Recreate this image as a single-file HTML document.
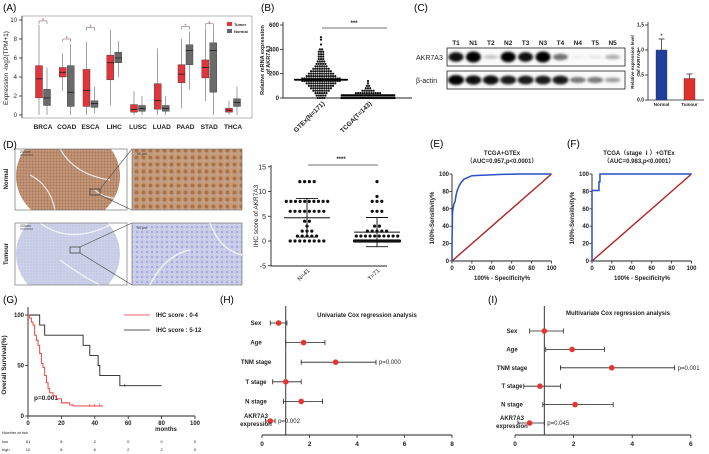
<!DOCTYPE html>
<html><head><meta charset="utf-8"><style>
html,body{margin:0;padding:0;background:#fff;}
svg{display:block;font-family:"Liberation Sans","Noto Sans CJK SC",sans-serif;}
.pl{font-size:10px;font-weight:normal;}
.t{font-size:6px;font-weight:bold;fill:#222;}
.ts{font-size:5px;font-weight:bold;fill:#222;}
</style></head><body>
<svg id="fig" width="709" height="454" viewBox="0 0 709 454">
<defs>
<filter id="blur" x="-50%" y="-50%" width="200%" height="200%"><feGaussianBlur stdDeviation="1.3"/></filter>
<pattern id="pn" width="3" height="3" patternUnits="userSpaceOnUse"><rect width="3" height="3" fill="#b98a6c"/><circle cx="1" cy="1" r="0.6" fill="#d2b29c"/><circle cx="2.5" cy="2.3" r="0.5" fill="#9f6f50"/></pattern>
<pattern id="pnz" width="7" height="7" patternUnits="userSpaceOnUse"><rect width="7" height="7" fill="#c79a78"/><circle cx="3.5" cy="3.5" r="2" fill="#a8734a"/><circle cx="0.5" cy="6.5" r="1" fill="#aab3d6"/></pattern>
<pattern id="pt" width="3" height="3" patternUnits="userSpaceOnUse"><rect width="3" height="3" fill="#cdd1e8"/><circle cx="1" cy="1" r="0.5" fill="#aab1d9"/></pattern>
<pattern id="ptz" width="5" height="5" patternUnits="userSpaceOnUse"><rect width="5" height="5" fill="#c8cce8"/><circle cx="2" cy="2" r="0.9" fill="#8e97cf"/><circle cx="4.3" cy="4.3" r="0.6" fill="#e6e8f4"/></pattern>
<clipPath id="clipN"><rect x="15" y="149" width="112" height="61"/></clipPath>
<clipPath id="clipT"><rect x="15" y="223" width="112" height="62"/></clipPath>
</defs>

<text class="pl" x="3" y="11">(A)</text>
<text class="pl" x="261" y="11">(B)</text>
<text class="pl" x="414" y="11">(C)</text>
<text class="pl" x="3" y="148">(D)</text>
<text class="pl" x="430" y="147">(E)</text>
<text class="pl" x="567" y="147">(F)</text>
<text class="pl" x="3" y="303">(G)</text>
<text class="pl" x="220" y="303">(H)</text>
<text class="pl" x="488" y="303">(I)</text>

<rect x="22" y="16" width="230" height="102" fill="none" stroke="#888" stroke-width="0.6"/>
<text class="t" transform="translate(8,68) rotate(-90)" text-anchor="middle" style="font-weight:normal;font-size:6.5px">Expression -log2(TPM+1)</text>
<rect x="227" y="22" width="5" height="4" fill="#e0353b"/>
<text class="ts" x="234" y="26" style="font-size:4px">Tumor</text>
<rect x="227" y="29" width="5" height="4" fill="#666"/>
<text class="ts" x="234" y="33" style="font-size:4px">Normal</text>

<text class="ts" transform="translate(264,60) rotate(-90)" text-anchor="middle" style="font-size:5.5px">Relative mRNA expression</text>
<text class="ts" transform="translate(270,60) rotate(-90)" text-anchor="middle" style="font-size:5.5px">of AKR7A3</text>
<text class="t" x="354" y="25" text-anchor="middle">***</text>

<text class="t" x="416" y="60" style="font-size:7px;font-weight:normal">AKR7A3</text>
<text class="t" x="416" y="83" style="font-size:7px;font-weight:normal">β-actin</text>
<rect x="447" y="48" width="178" height="18" fill="#fafafa" stroke="#222" stroke-width="0.8"/>
<rect x="447" y="71" width="178" height="18" fill="#fafafa" stroke="#222" stroke-width="0.8"/>
<text class="ts" transform="translate(634,62) rotate(-90)" text-anchor="middle" style="font-size:4.5px">Relative expression level</text>
<text class="ts" transform="translate(640,62) rotate(-90)" text-anchor="middle" style="font-size:4.5px">of AKR7A3</text>

<text class="t" transform="translate(8,179) rotate(-90)" text-anchor="middle">Normal</text>
<text class="t" transform="translate(8,254) rotate(-90)" text-anchor="middle">Tumour</text>
<g>
<rect x="15" y="149" width="112" height="61" fill="#fff"/>
<g clip-path="url(#clipN)">
<ellipse cx="68" cy="176" rx="52" ry="48" fill="url(#pn)"/>
<path d="M60,149 Q75,175 110,180 M30,175 Q50,185 55,210 M95,190 Q105,200 127,198" stroke="#fff" stroke-width="1.2" fill="none" opacity="0.8"/>
</g>
<rect x="15" y="149" width="112" height="61" fill="none" stroke="#777" stroke-width="0.7"/>
<line x1="20" y1="155" x2="33" y2="155" stroke="#333" stroke-width="0.6"/><text x="20" y="153" font-size="3.5" fill="#333">200um</text>
<rect x="90" y="189" width="10" height="6" fill="none" stroke="#333" stroke-width="0.7"/>
<line x1="100" y1="189" x2="132" y2="149" stroke="#444" stroke-width="0.6"/><line x1="100" y1="195" x2="132" y2="210" stroke="#444" stroke-width="0.6"/>
</g>
<g>
<rect x="132" y="149" width="110" height="61" fill="url(#pnz)" stroke="#777" stroke-width="0.7"/>
<text x="137" y="155" font-size="3.5" fill="#333">50 μm</text>
</g>
<g>
<rect x="15" y="223" width="112" height="62" fill="#fff"/>
<g clip-path="url(#clipT)">
<ellipse cx="68" cy="254" rx="52" ry="48" fill="url(#pt)"/>
<path d="M40,223 Q70,245 110,225 M60,260 Q80,275 100,285" stroke="#fff" stroke-width="1.2" fill="none" opacity="0.8"/>
</g>
<rect x="15" y="223" width="112" height="62" fill="none" stroke="#777" stroke-width="0.7"/>
<line x1="20" y1="229" x2="33" y2="229" stroke="#333" stroke-width="0.6"/><text x="20" y="227" font-size="3.5" fill="#333">200um</text>
<rect x="70" y="247" width="10" height="6" fill="none" stroke="#333" stroke-width="0.7"/>
<line x1="80" y1="247" x2="132" y2="223" stroke="#444" stroke-width="0.6"/><line x1="80" y1="253" x2="132" y2="285" stroke="#444" stroke-width="0.6"/>
</g>
<g>
<rect x="132" y="223" width="110" height="62" fill="url(#ptz)" stroke="#777" stroke-width="0.7"/>
<path d="M150,285 Q165,255 190,250 M210,223 Q220,250 242,255" stroke="#eef0f8" stroke-width="1.5" fill="none"/>
<text x="137" y="229" font-size="3.5" fill="#333">50 μm</text>
</g>
<text class="t" transform="translate(258,216) rotate(-90)" text-anchor="middle" style="font-weight:normal;font-size:6.5px">IHC score of  AKR7A3</text>
<text class="t" x="341" y="161" text-anchor="middle">****</text>

<text class="t" x="502" y="155" text-anchor="middle">TCGA+GTEx</text>
<text class="t" x="502" y="163" text-anchor="middle">（AUC=0.957,p&lt;0.0001）</text>
<text class="t" x="639" y="155" text-anchor="middle">TCGA（stage Ⅰ）+GTEx</text>
<text class="t" x="639" y="163" text-anchor="middle">（AUC=0.983,p&lt;0.0001）</text>
<text class="t" transform="translate(434,218) rotate(-90)" text-anchor="middle">100%-Sensitivity%</text>
<text class="t" transform="translate(574,218) rotate(-90)" text-anchor="middle">100%-Sensitivity%</text>
<text class="t" x="502" y="280" text-anchor="middle">100%  - Specificity%</text>
<text class="t" x="642" y="280" text-anchor="middle">100%  - Specificity%</text>

<text class="t" transform="translate(6,365) rotate(-90)" text-anchor="middle" style="font-size:6.5px">Overall Survival(%)</text>
<text class="t" x="166" y="431" text-anchor="middle">months</text>
<text class="ts" x="2" y="434" style="font-weight:normal;font-size:4px">Number at risk</text>
<text class="ts" x="2" y="443" style="font-weight:normal;font-size:4px">low</text>
<text class="ts" x="2" y="451" style="font-weight:normal;font-size:4px">high</text>
<line x1="124" y1="315" x2="150" y2="315" stroke="#e8332f" stroke-width="0.8"/>
<text class="t" x="156" y="317">IHC score : 0-4</text>
<line x1="124" y1="330" x2="150" y2="330" stroke="#222" stroke-width="0.8"/>
<text class="t" x="156" y="332">IHC score : 5-12</text>
<text class="t" x="34" y="400" style="font-size:6.5px">p=0.001</text>

<text class="t" x="367" y="317" text-anchor="middle">Univariate Cox regression analysis</text>
<text class="t" x="618" y="315" text-anchor="middle">Multivariate Cox regression analysis</text>

<g id="marks"></g>
</svg>
<script>
// ===== Panel A data =====
const aCats=['BRCA','COAD','ESCA','LIHC','LUSC','LUAD','PAAD','STAD','THCA'];
const aTumorQ1=[1.8,4.0,0.9,3.7,0.3,0.6,3.4,3.9,0.3];
const aTumorMed=[3.8,4.5,2.6,5.5,0.6,1.5,4.3,5.0,0.5];
const aTumorQ3=[5.2,5.0,4.8,6.3,1.1,3.3,5.3,5.8,0.7];
const aTumorLo=[0,2.5,0,1.0,0,0,0.7,1.5,0];
const aTumorHi=[9.5,6.5,7.7,9.0,2.5,7.0,8.0,9.2,1.5];
const aNormalQ1=[1.0,0.9,0.8,5.5,0.4,0.4,5.3,2.4,0.9];
const aNormalMed=[1.8,2.4,1.2,6.0,0.7,0.7,6.8,6.8,1.3];
const aNormalQ3=[2.7,5.2,1.5,6.6,1.0,1.0,7.4,7.6,1.7];
const aNormalLo=[0,0,0.2,4.0,0,0,2.7,0,0];
const aNormalHi=[5.0,7.5,3.0,7.8,2.0,2.0,8.8,9.3,3.0];
const aSigCats=['BRCA','COAD','ESCA','PAAD','STAD'];
const aSigLevel=[9.9,8.0,9.2,9.3,9.6];
const aTicks=[0,2,4,6,8,10];
// ===== Panel B data =====
const bGtexVals=[500,480,440,400,380,360,340,320,300,280,260,240,220,200,180,160,150,140,120,100,80,60,40,20,0];
const bGtexCounts=[1,1,1,2,3,3,3,3,4,5,6,8,10,12,14,18,26,18,14,12,10,8,6,5,4];
const bTcgaVals=[140,120,100,80,60,40,20,0];
const bTcgaCounts=[1,1,2,3,6,12,40,78];
const bMeans=[150,25];
const bTicks=[0,200,400,600];
// ===== Panel C data =====
const cLanes=['T1','N1','T2','N2','T3','N3','T4','N4','T5','N5'];
const cAkrBand=[0.85,1.0,0.2,0.95,0.85,1.0,0.5,0.06,0.08,0.28];
const cActinBand=[1.0,0.9,0.9,0.85,0.85,0.85,0.85,0.5,0.5,0.35];
const cBarCats=['Normal','Tumour'];
const cBarVals=[1.0,0.43];
const cBarErr=[0.22,0.09];
const cTicks=[0.0,0.5,1.0,1.5];
// ===== Panel D (IHC) data =====
const dNScores=[12,8,6,4,3,2,1,0];
const dNCounts=[4,10,8,2,1,3,5,8];
const dTScores=[12,9,8,6,3,2,1,0];
const dTCounts=[1,1,3,3,2,5,10,46];
const dMean=[4.7,1.8];
const dSD=[3.9,2.95];
const dTicks=[-5,0,5,10,15];
// ===== Panel E/F data =====
const eFpr=[0,0,0.5,1,2,3,4,5,7,9,12,16,20,30,50,70,100];
const eTpr=[0,20,55,60,66,68,75,80,86,90,94,96,98,98.5,99.5,100,100];
const fFpr=[0,0,7,7,8,8,100];
const fTpr=[0,81,81,91,91,100,100];
const efTicks=[0,20,40,60,80,100];
// ===== Panel G data =====
const gHighT=[0,7,10,33,37,42,43,55,80];
const gHighS=[100,90,80,70,60,50,40,30,30];
const gLowT=[0,1,2,3,4,5,6,7,8,9,10,11,12,13,15,17,20,25,27,45];
const gLowS=[100,97,93,90,80,75,70,62,52,48,40,33,27,23,20,17,13,11,10,10];
const gLowCensor=[37,40,43];
const gHighCensor=[58];
const gTicks=[0,20,40,60,80,100];
const gYTicks=[0,50,100];
const gRiskLow=[61,8,2,0,0,0];
const gRiskHigh=[10,8,6,2,2,0];
// ===== Panel H/I data =====
const coxVars=['Sex','Age','TNM stage','T stage','N stage','AKR7A3'];
const hHR=[0.7,1.75,3.1,1.0,1.65,0.35];
const hLo=[0.35,1.0,1.65,0.45,0.9,0.15];
const hHi=[1.05,2.65,4.8,1.65,2.55,0.55];
const hP=['','','p=0.000','','','p=0.002'];
const hTicks=[0,2,4,6,8];
const iHR=[1.0,1.95,3.3,0.85,2.05,0.5];
const iLo=[0.5,1.05,1.55,0.3,0.95,0.1];
const iHi=[1.65,3.05,5.45,1.55,3.35,1.0];
const iP=['','','p=0.001','','','p=0.045'];
const iTicks=[0,2,4,6];

const NS='http://www.w3.org/2000/svg';
const root=document.getElementById('marks');
function mk(tag,attrs,txt){const e=document.createElementNS(NS,tag);for(const k in attrs)e.setAttribute(k,attrs[k]);if(txt!==undefined)e.textContent=txt;root.appendChild(e);return e;}
function line(x1,y1,x2,y2,c,w){return mk('line',{x1:x1,y1:y1,x2:x2,y2:y2,stroke:c||'#222','stroke-width':w||0.8});}
let e;

// ===== Panel A =====
const xA=i=>43+i*23.75, yA=v=>115-v*9.5;
e=line(22,16,22,118,'#222',0.7);


aTicks.forEach(t=>{
  e=line(19,yA(t),22,yA(t));
  
  
  e=mk('text',{x:17,y:yA(t)+2,'text-anchor':'end',class:'t',style:'font-weight:normal'},t);
  
  
});
function boxA(cx,q1,md,q3,lo,hi,fill,nm){
  e=line(cx,yA(lo),cx,yA(hi),'#444',0.5);
  
  
  e=mk('rect',{x:cx-3.5,y:yA(q3),width:7,height:yA(q1)-yA(q3),fill:fill,stroke:'#333','stroke-width':0.4});
  
  
  e=line(cx-3.5,yA(md),cx+3.5,yA(md),'#111',0.7);
  
  
}
aCats.forEach((c,i)=>{
  boxA(xA(i)-4,aTumorQ1[i],aTumorMed[i],aTumorQ3[i],aTumorLo[i],aTumorHi[i],'#e0353b','box-tumor-'+c.toLowerCase());
  boxA(xA(i)+4,aNormalQ1[i],aNormalMed[i],aNormalQ3[i],aNormalLo[i],aNormalHi[i],'#6a6a6a','box-normal-'+c.toLowerCase());
  e=mk('text',{x:xA(i),y:129,'text-anchor':'middle',class:'t',style:'font-size:6.5px'},c);
  
  
});
aSigCats.forEach((c,k)=>{
  const i=aCats.indexOf(c), y=yA(aSigLevel[k]);
  e=mk('path',{d:`M${xA(i)-4},${y+3}V${y}H${xA(i)+4}V${y+3}`,fill:'none',stroke:'#555','stroke-width':0.5});
  
  
  e=mk('text',{x:xA(i),y:y+1.5,'text-anchor':'middle',fill:'#e0353b','font-size':6},'*');
  
  
});

// ===== Panel B =====
const yB=v=>98-v*73/600, bCx=[321,368];
e=mk('path',{d:'M283,22V98H412',fill:'none',stroke:'#222','stroke-width':0.9});


bTicks.forEach(t=>{
  e=line(280,yB(t),283,yB(t));
  
  
  e=mk('text',{x:279,y:yB(t)+2,'text-anchor':'end',class:'t'},t);
  
  
});
function swarm(cx,vals,counts,maxW,nm){
  vals.forEach((v,k)=>{
    const n=counts[k], sp=Math.min(2.2,maxW/Math.max(n,1));
    for(let j=0;j<n;j++){
      e=mk('circle',{cx:cx+(j-(n-1)/2)*sp,cy:yB(v),r:1.1,fill:'#111'});
      
      
    }
  });
}
swarm(bCx[0],bGtexVals,bGtexCounts,52,'gtex-dot');
swarm(bCx[1],bTcgaVals,bTcgaCounts,54,'tcga-dot');
bMeans.forEach((m,i)=>{
  e=line(bCx[i]-27,yB(m),bCx[i]+27,yB(m),'#000',1.4);
  
  
});
e=line(322,28,387,28,'#444',0.7);


['GTEx(N=171)','TCGA(T=143)'].forEach((l,i)=>{
  e=mk('text',{transform:`translate(${bCx[i]+4},${104}) rotate(-45)`,'text-anchor':'end',class:'t',style:'font-size:6.5px'},l);
  
  
});

// ===== Panel C =====
const laneX=i=>456+i*17.4;
cLanes.forEach((l,i)=>{
  e=mk('text',{x:laneX(i),y:45,'text-anchor':'middle',class:'t',style:'font-size:6.5px'},l);
  
  
  const a=cAkrBand[i];
  e=mk('ellipse',{cx:laneX(i),cy:57,rx:7.5,ry:1+a*4.5,fill:'#000','fill-opacity':Math.min(1,a*1.1),filter:'url(#blur)'});
  
  
  const b=cActinBand[i];
  e=mk('ellipse',{cx:laneX(i),cy:80,rx:8,ry:1+b*4,fill:'#000','fill-opacity':Math.min(1,b*1.05),filter:'url(#blur)'});
  
  
});
const yC=v=>100-v*50, cX=[661.5,689.5];
e=mk('path',{d:'M648,22V100H704',fill:'none',stroke:'#222','stroke-width':0.8});


cTicks.forEach(t=>{
  e=line(645,yC(t),648,yC(t));
  
  
  e=mk('text',{x:644,y:yC(t)+1.5,'text-anchor':'end',class:'ts'},t.toFixed(1));
  
  
});
cBarCats.forEach((c,i)=>{
  e=line(cX[i],yC(cBarVals[i]),cX[i],yC(cBarVals[i]+cBarErr[i]),'#333',0.8);
  
  
  e=line(cX[i]-3,yC(cBarVals[i]+cBarErr[i]),cX[i]+3,yC(cBarVals[i]+cBarErr[i]),'#333',0.8);
  
  
  e=mk('rect',{x:cX[i]-5.5,y:yC(cBarVals[i]),width:11,height:yC(0)-yC(cBarVals[i]),fill:i?'#e0302c':'#1f3f9c',stroke:'#333','stroke-width':0.4});
  
  
  e=mk('text',{x:cX[i],y:106,'text-anchor':'middle',class:'ts',style:'font-size:4.5px'},c);
  
  
});
e=mk('text',{x:cX[0],y:yC(cBarVals[0]+cBarErr[0])-1,'text-anchor':'middle','font-size':6},'*');



// ===== Panel D IHC scatter =====
const yD=v=>241-v*4.95, dX=[307,377];
e=mk('path',{d:'M271,165V266H387',fill:'none',stroke:'#222','stroke-width':0.9});


dTicks.forEach(t=>{
  e=line(268,yD(t),271,yD(t));
  
  
  e=mk('text',{x:266,y:yD(t)+2.5,'text-anchor':'end',class:'t',style:'font-weight:normal;font-size:7px'},t);
  
  
});
function dots(cx,sc,cn,nm){
  sc.forEach((s,k)=>{const n=cn[k],sp=Math.min(4.8,46/Math.max(n,1));
    for(let j=0;j<n;j++){
      e=mk('circle',{cx:cx+(j-(n-1)/2)*sp,cy:yD(s),r:1.6,fill:'#111'});
      
      
    }});
}
dots(dX[0],dNScores,dNCounts,'ihc-normal-dot');
dots(dX[1],dTScores,dTCounts,'ihc-tumour-dot');
dMean.forEach((m,i)=>{
  e=line(dX[i]-23,yD(m),dX[i]+23,yD(m),'#111',1);
  
  
  e=line(dX[i],yD(m-dSD[i]),dX[i],yD(m+dSD[i]),'#111',0.9);
  
  
  [m-dSD[i],m+dSD[i]].forEach(v=>{
    e=line(dX[i]-11,yD(v),dX[i]+11,yD(v),'#111',0.9);
    
    
  });
});
e=line(308,165,378,165,'#444',0.7);


['N=41','T=71'].forEach((l,i)=>{
  e=mk('text',{transform:`translate(${dX[i]+3},271) rotate(-45)`,'text-anchor':'end',class:'t',style:'font-weight:normal'},l);
  
  
});

// ===== Panels E/F ROC =====
function roc(x0,fpr,tpr,nm){
  const X=v=>x0+v*0.995, Y=v=>261-v*0.87;
  e=mk('path',{d:`M${x0},174V261H${X(100)}`,fill:'none',stroke:'#222','stroke-width':0.9});
  
  
  efTicks.forEach(t=>{
    e=line(X(t),261,X(t),263.5);
    
    
    e=mk('text',{x:X(t),y:270,'text-anchor':'middle',class:'t'},t);
    
    
    e=line(x0-2.5,Y(t),x0,Y(t));
    
    
    e=mk('text',{x:x0-3,y:Y(t)+2,'text-anchor':'end',class:'t'},t);
    
    
  });
  e=line(X(0),Y(0),X(100),Y(100),'#b22222',1.4);
  
  
  e=mk('polyline',{points:fpr.map((f,i)=>X(f)+','+Y(tpr[i])).join(' '),fill:'none',stroke:'#2a4fc6','stroke-width':1.5});
  
  
}
roc(452,eFpr,eTpr,'roc-e');
roc(592,fFpr,fTpr,'roc-f');

// ===== Panel G KM =====
const xG=t=>28+t*1.67, yG=s=>416-s*1.01;
e=mk('path',{d:`M28,307V416H${xG(100)}`,fill:'none',stroke:'#222','stroke-width':0.9});


gTicks.forEach((t,k)=>{
  e=line(xG(t),416,xG(t),419);
  
  
  e=mk('text',{x:xG(t),y:425,'text-anchor':'middle',class:'t'},t);
  
  
  e=mk('text',{x:xG(t),y:443,'text-anchor':'middle',class:'ts',style:'font-weight:normal;font-size:4px'},gRiskLow[k]);
  
  
  e=mk('text',{x:xG(t),y:451,'text-anchor':'middle',class:'ts',style:'font-weight:normal;font-size:4px'},gRiskHigh[k]);
  
  
});
gYTicks.forEach(t=>{
  e=line(25,yG(t),28,yG(t));
  
  
  e=mk('text',{x:24,y:yG(t)+2,'text-anchor':'end',class:'t'},t);
  
  
});
function step(T,S,c,nm){
  let d=`M${xG(T[0])},${yG(S[0])}`;
  for(let i=1;i<T.length;i++)d+=`H${xG(T[i])}V${yG(S[i])}`;
  e=mk('path',{d:d,fill:'none',stroke:c,'stroke-width':0.9});
  
  
}
step(gHighT,gHighS,'#222','km-high-curve');
step(gLowT,gLowS,'#e8332f','km-low-curve');
gLowCensor.forEach(t=>{
  e=line(xG(t),yG(10)-2,xG(t),yG(10)+1,'#e8332f',0.6);
  
  
});
gHighCensor.forEach(t=>{
  e=line(xG(t),yG(30)-2,xG(t),yG(30)+1,'#222',0.6);
  
  
});

// ===== Panels H/I forest =====
function forest(x0,ppu,ticks,hr,lo,hi,ps,rowY,labX,nm){
  const X=v=>x0+v*ppu;
  e=line(x0,435,X(ticks[ticks.length-1]),435,'#222',0.9);
  
  
  e=line(X(1),306,X(1),435,'#222',0.9);
  
  
  ticks.forEach(t=>{
    e=line(X(t),435,X(t),438);
    
    
    e=mk('text',{x:X(t),y:446,'text-anchor':'middle',class:'t',style:'font-size:6.5px'},t);
    
    
  });
  coxVars.forEach((v,i)=>{
    const y=rowY(i);
    e=line(X(lo[i]),y,X(hi[i]),y,'#222',0.8);
    
    
    [lo[i],hi[i]].forEach(c=>{
      e=line(X(c),y-2.5,X(c),y+2.5,'#222',0.8);
      
      
    });
    e=mk('circle',{cx:X(hr[i]),cy:y,r:2.8,fill:'#e8332f'});
    
    
    if(v==='AKR7A3'){
      e=mk('text',{x:labX,y:y-3,'text-anchor':'middle',class:'t'},'AKR7A3');
      
      
      e=mk('text',{x:labX,y:y+5,'text-anchor':'middle',class:'t'},'expression');
      
      
    }else{
      e=mk('text',{x:labX,y:y+2,'text-anchor':'middle',class:'t'},v);
      
      
    }
    if(ps[i]){
      e=mk('text',{x:X(hi[i])+3,y:y+2,class:'t',style:'font-weight:normal'},ps[i]);
      
      
    }
  });
}
forest(262,23.75,hTicks,hHR,hLo,hHi,hP,i=>323+i*19.6,256,'univariate');
forest(515,29.3,iTicks,iHR,iLo,iHi,iP,i=>331+i*18.4,512,'multivariate');
</script>
</body></html>
